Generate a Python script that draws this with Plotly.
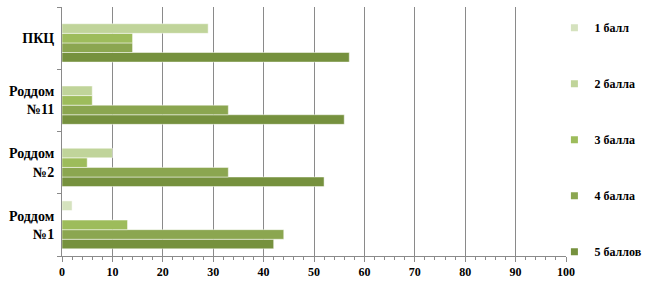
import plotly.graph_objects as go

categories = ["Роддом<br>№1", "Роддом<br>№2", "Роддом<br>№11", "ПКЦ"]
series_names = ["1 балл", "2 балла", "3 балла", "4 балла", "5 баллов"]
vals_1 = [2, 0, 0, 0]
vals_2 = [0, 10, 6, 29]
vals_3 = [13, 5, 6, 14]
vals_4 = [44, 33, 33, 14]
vals_5 = [42, 52, 56, 57]
x_ticks = [0, 10, 20, 30, 40, 50, 60, 70, 80, 90, 100]

series_vals = [vals_1, vals_2, vals_3, vals_4, vals_5]
colors = ["#D5E2BE", "#C0D49A", "#9DBC5B", "#8BA650", "#76913E"]

font_family = "Liberation Serif"

fig = go.Figure()
# Plotly draws the first trace at the bottom of each group -> add 5 баллов first
for i in reversed(range(5)):
    fig.add_trace(go.Bar(
        y=categories, x=series_vals[i], orientation="h",
        name=series_names[i], marker=dict(color=colors[i], line=dict(color="rgba(255,255,255,0.8)", width=0.6)),
        showlegend=False,
    ))
# legend entries (small square swatches)
for i in range(5):
    fig.add_trace(go.Scatter(
        x=[None], y=[None], mode="markers", name=series_names[i],
        marker=dict(symbol="square", size=7, color=colors[i]),
        legendgroup=series_names[i], showlegend=True,
    ))

fig.update_layout(
    width=650, height=300,
    margin=dict(l=62, r=84, t=7, b=44, autoexpand=False),
    paper_bgcolor="white", plot_bgcolor="white",
    barmode="group", bargap=0.23, bargroupgap=0,
    font=dict(family=font_family, size=11, color="black"),
    legend=dict(
        x=0.977, xanchor="left", y=0.975, yanchor="top",
        traceorder="grouped", tracegroupgap=37, maxheight=295,
        font=dict(family=font_family, size=12, weight="bold", color="black"),
        itemwidth=30, bgcolor="rgba(0,0,0,0)",
    ),
)
fig.update_xaxes(
    range=[0, 100], tickvals=x_ticks, ticktext=[str(v) for v in x_ticks],
    showgrid=True, gridcolor="#8A8A8A", gridwidth=1,
    showline=True, linecolor="#8A8A8A", linewidth=1,
    ticks="outside", ticklen=5, tickcolor="#8A8A8A",
    minor=dict(dtick=2, ticks="outside", ticklen=3, tickcolor="#8A8A8A", showgrid=False),
    tickfont=dict(family=font_family, size=12, weight="bold", color="black"),
    zeroline=False, fixedrange=True,
)
fig.update_yaxes(
    type="category", categoryorder="array", categoryarray=categories,
    showgrid=False, showline=True, linecolor="#8A8A8A", linewidth=1,
    ticks="outside", ticklen=4, tickcolor="#8A8A8A", tickson="boundaries",
    tickfont=dict(family=font_family, size=14, weight="bold", color="black"),
    ticklabelstandoff=4, zeroline=False,
)

fig.write_html("out.html")
